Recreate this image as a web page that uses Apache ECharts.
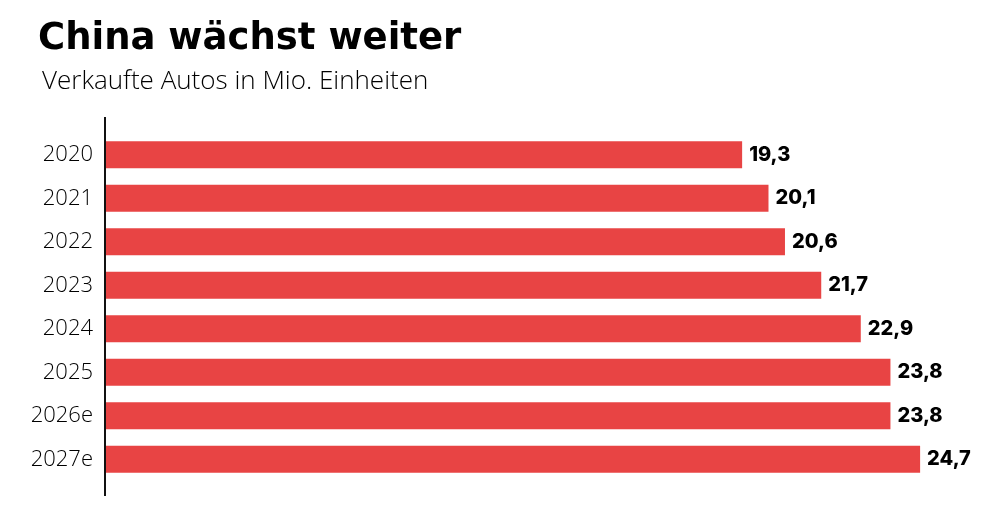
<!DOCTYPE html>
<html>
<head>
<meta charset="utf-8">
<script src="https://cdn.jsdelivr.net/npm/echarts@6/dist/echarts.min.js"></script>
<style>
    html, body { margin: 0; padding: 0; background: #fff; }
    #chart { width: 1000px; height: 516px; }
</style>
</head>
<body>
<div id="chart"></div>
<script>
// Jahre und verkaufte Autos (Mio.)
const years = ['2020', '2021', '2022', '2023', '2024', '2025', '2026e', '2027e'];
const sales = [19.3, 20.1, 20.6, 21.7, 22.9, 23.8, 23.8, 24.7];

const mychart = echarts.init(document.getElementById('chart'));
const option = {
    animation: false,
    backgroundColor: '#fff',
    title: [
        {
            text: 'China wächst weiter',
            left: 33,
            top: 16,
            textStyle: {
                fontFamily: 'DejaVu Sans',
                fontWeight: 'bold',
                fontSize: 37,
                color: '#000'
            }
        },
        {
            text: 'Verkaufte Autos in Mio. Einheiten',
            left: 37,
            top: 64,
            textStyle: {
                fontFamily: 'Open Sans',
                fontWeight: 300,
                fontSize: 26,
                color: '#000'
            }
        }
    ],
    grid: {
        left: 106,
        right: 70,
        top: 133,
        bottom: 35,
        containLabel: false
    },
    xAxis: {
        type: 'value',
        min: 0,
        max: 25,
        show: false
    },
    yAxis: {
        type: 'category',
        data: years,
        inverse: true,
        axisLine: { show: false },
        axisTick: { show: false },
        axisLabel: {
            margin: 13,
            fontFamily: 'Open Sans',
            fontWeight: 300,
            fontSize: 22,
            color: '#000'
        }
    },
    series: [
        {
            type: 'bar',
            data: sales,
            barWidth: 27,
            itemStyle: { color: '#e84444' },
            label: {
                show: true,
                position: 'right',
                distance: 7,
                fontFamily: 'Inter',
                fontWeight: 800,
                fontSize: 20,
                color: '#000',
                formatter: p => String(p.value).replace('.', ',')
            }
        }
    ],
    graphic: [
        {
            // senkrechte Achsenlinie, reicht über die Balken hinaus
            type: 'line',
            shape: { x1: 105, y1: 117, x2: 105, y2: 496 },
            style: { stroke: '#111', lineWidth: 2 }
        }
    ]
};
mychart.setOption(option);
</script>
</body>
</html>
